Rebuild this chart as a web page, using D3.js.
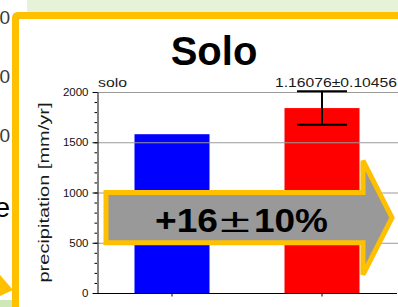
<!DOCTYPE html>
<html lang="en">
<head>
  <meta charset="UTF-8">
  <title>Solo precipitation</title>
  <style>
    body { margin: 0; background: #fff; }
    svg { display: block; font-family: "Liberation Sans", Arial, sans-serif; }
    .grid line { stroke: #9a9a9a; stroke-width: 1; }
    .axis path, .axis line { stroke: #000; }
    .axis text { font-size: 11.5px; fill: #111; }
    .lbl { fill: #1a1a1a; }
  </style>
</head>
<body>
  <svg id="chart" width="398" height="307"></svg>
  <script src="https://cdn.jsdelivr.net/npm/d3@7"></script>
  <script>
    // data
    const categories = ["control", "perturbed"];
    const values = [1580, 1840];
    const errors = [0, 167];
    const barColors = ["#0000ff", "#ff0000"];
    const yTicks = [0, 500, 1000, 1500, 2000];
    const gridTicks = [500, 1000, 1500, 2000];
    const panelLabel = "solo";
    const ratioLabel = "1.16076\u00b10.10456";
    const changeParts = ["+16", "\u00b1", "10%"];

    const width = 398, height = 307;
    const svg = d3.select("#chart");

    // backdrop: bits of neighbouring slides
    svg.append("rect").attr("x", 27).attr("y", 0).attr("width", width - 27).attr("height", 12)
      .attr("fill", "#e6f3d8");
    svg.append("rect").attr("x", 0).attr("y", 300).attr("width", 14).attr("height", 7)
      .attr("fill", "#cfe8b8");
    [24, 83, 142].forEach(y => {
      svg.append("text").attr("x", 10).attr("y", y).attr("text-anchor", "end")
        .attr("font-size", 19).attr("fill", "#3a3a3a").text("0");
    });
    svg.append("text").attr("x", 10).attr("y", 217).attr("text-anchor", "end")
      .attr("font-size", 28).attr("fill", "#000").text("e");
    svg.append("polygon").attr("points", "0,275 13,290 0,296").attr("fill", "#ffc000");

    // orange frame
    svg.append("rect").attr("x", 15.5).attr("y", 15.5).attr("width", 420).attr("height", 320)
      .attr("rx", 2).attr("fill", "#fff").attr("stroke", "#ffc000").attr("stroke-width", 7);

    const x = d3.scaleBand().domain(categories).range([97, 397])
      .paddingInner(0.5).paddingOuter(0.25);
    const y = d3.scaleLinear().domain([0, 2000]).range([293, 92]);

    // title
    svg.append("text").attr("x", 214).attr("y", 65).attr("text-anchor", "middle")
      .attr("font-size", 40).attr("font-weight", "bold").text("Solo");

    // bars
    svg.append("g").selectAll("rect")
      .data(values)
      .join("rect")
      .attr("x", (d, i) => x(categories[i]))
      .attr("y", d => y(d))
      .attr("width", x.bandwidth())
      .attr("height", d => y(0) - y(d))
      .attr("fill", (d, i) => barColors[i]);

    // grid
    svg.append("g").attr("class", "grid").selectAll("line")
      .data(gridTicks)
      .join("line")
      .attr("x1", 97).attr("x2", 398)
      .attr("y1", d => y(d) + 0.5).attr("y2", d => y(d) + 0.5);

    // error bars
    const eb = svg.append("g").attr("stroke", "#000").attr("stroke-width", 2);
    values.forEach((v, i) => {
      if (!errors[i]) return;
      const cx = x(categories[i]) + x.bandwidth() / 2;
      eb.append("line").attr("x1", cx).attr("x2", cx).attr("y1", y(v - errors[i])).attr("y2", y(v + errors[i]));
      [v - errors[i], v + errors[i]].forEach(e => {
        eb.append("line").attr("x1", cx - 25).attr("x2", cx + 25).attr("y1", y(e)).attr("y2", y(e));
      });
    });

    // axes
    svg.append("g").attr("class", "axis")
      .attr("transform", "translate(97,0)")
      .call(d3.axisLeft(y).tickValues(d3.range(0, 2001, 100)).tickSize(2.5).tickFormat(""))
      .call(g => g.select(".domain").remove());
    svg.append("g").attr("class", "axis")
      .attr("transform", "translate(97.5,0)")
      .call(d3.axisLeft(y).tickValues(yTicks).tickSize(5).tickPadding(4).tickSizeOuter(0)
        .tickFormat(d3.format("d")));
    svg.append("g").attr("class", "axis")
      .attr("transform", "translate(0,293.5)")
      .call(d3.axisBottom(x).tickSize(3).tickSizeOuter(0).tickFormat(""))
      .call(g => g.select(".domain").attr("d", "M97,0H397"));

    // labels
    svg.append("text").attr("class", "lbl").attr("x", 98).attr("y", 87).attr("font-size", 12.5)
      .attr("textLength", 29).attr("lengthAdjust", "spacingAndGlyphs").text(panelLabel);
    svg.append("text").attr("class", "lbl").attr("x", 397).attr("y", 87).attr("font-size", 13)
      .attr("text-anchor", "end")
      .attr("textLength", 122).attr("lengthAdjust", "spacingAndGlyphs").text(ratioLabel);
    svg.append("text").attr("class", "lbl")
      .attr("transform", `translate(49,${(y(2000) + y(0)) / 2}) rotate(-90)`)
      .attr("text-anchor", "middle").attr("font-size", 15.5)
      .attr("textLength", 180).attr("lengthAdjust", "spacingAndGlyphs")
      .text("precipitation [mm/yr]");

    // change arrow
    const mid = y(750), half = (y(500) - y(1000)) / 2;
    const ax0 = 106, ah = 363, tip = 392, headHalf = 57;
    const arrowPts = [
      [ax0, mid - half], [ah, mid - half], [ah, mid - headHalf], [tip, mid],
      [ah, mid + headHalf], [ah, mid + half], [ax0, mid + half]
    ];
    svg.append("polygon")
      .attr("points", arrowPts.map(p => p.join(",")).join(" "))
      .attr("fill", "#999999").attr("stroke", "#ffc000").attr("stroke-width", 5)
      .attr("stroke-linejoin", "miter");

    const ct = svg.append("g").attr("font-weight", "bold").attr("font-size", 33);
    ct.append("text").attr("x", 155).attr("y", mid + 14).attr("textLength", 63)
      .attr("lengthAdjust", "spacingAndGlyphs").text(changeParts[0]);
    ct.append("text").attr("x", 235).attr("y", mid + 14).attr("text-anchor", "middle")
      .attr("font-weight", "normal").attr("font-size", 34)
      .attr("textLength", 30).attr("lengthAdjust", "spacingAndGlyphs").text(changeParts[1]);
    ct.append("text").attr("x", 254).attr("y", mid + 14).attr("textLength", 74)
      .attr("lengthAdjust", "spacingAndGlyphs").text(changeParts[2]);
  </script>
</body>
</html>
